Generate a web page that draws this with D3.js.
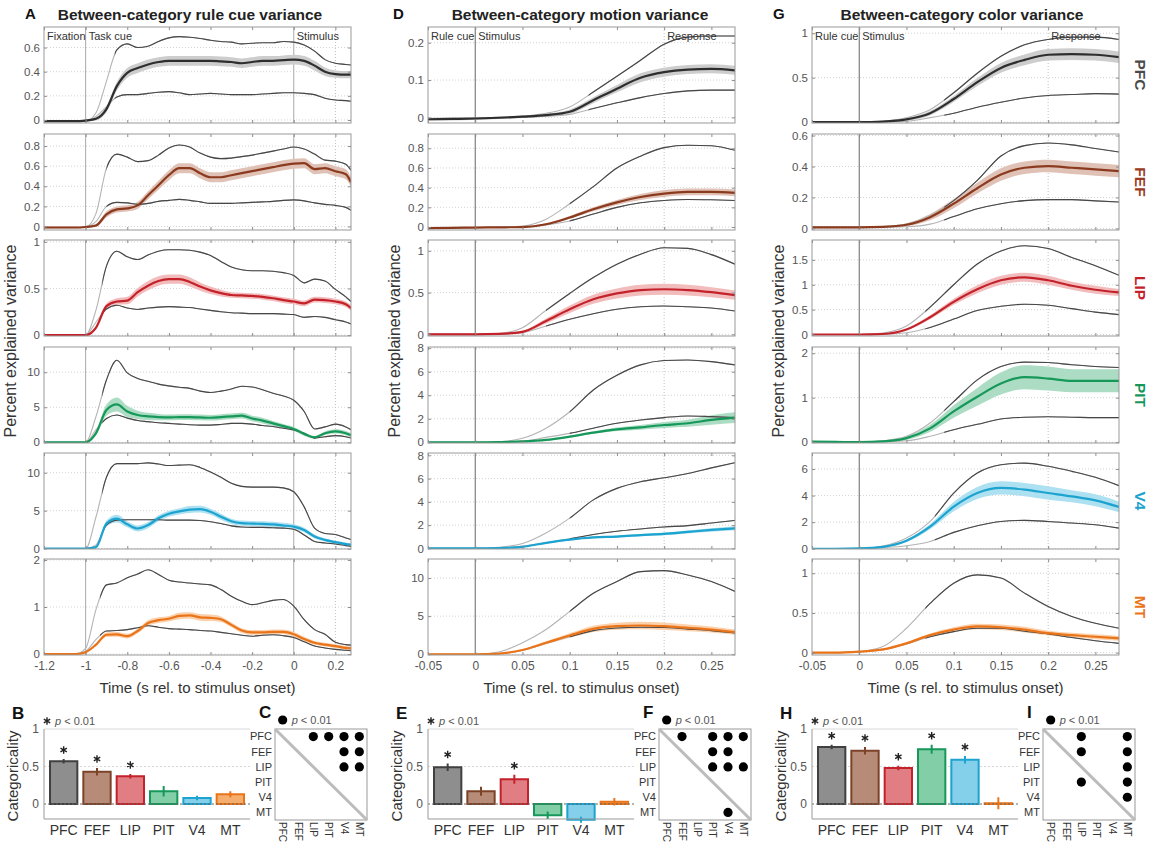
<!DOCTYPE html>
<html>
<head>
<meta charset="utf-8">
<script src="https://cdn.jsdelivr.net/npm/d3@7"></script>
<style>
body { margin: 0; background: #fff; }
svg text { font-family: "Liberation Sans", Arial, sans-serif; }
</style>
</head>
<body>
<svg width="1152" height="843"></svg>
<script>
var regions = ["PFC", "FEF", "LIP", "PIT", "V4", "MT"];

// time grids (s rel. to stimulus onset)
var tRule = [-1.2,-1.05,-1,-0.95,-0.9,-0.85,-0.8,-0.75,-0.7,-0.65,-0.6,-0.55,-0.5,-0.45,-0.4,-0.35,-0.3,-0.25,-0.2,-0.15,-0.1,-0.05,0,0.05,0.1,0.15,0.2,0.25,0.275];
var tStim = [-0.05,-0.025,0,0.025,0.05,0.075,0.1,0.125,0.15,0.175,0.2,0.225,0.25,0.275];

// A: rule cue variance (rows = PFC, FEF, LIP, PIT, V4, MT)
var ruleMean = [
  [-0.01,-0.01,-0.005,0.01,0.09,0.28,0.39,0.43,0.46,0.48,0.49,0.49,0.49,0.49,0.49,0.485,0.48,0.47,0.48,0.49,0.49,0.495,0.5,0.49,0.45,0.4,0.38,0.375,0.375],
  [-0.01,-0.01,-0.005,0.01,0.12,0.17,0.18,0.21,0.31,0.41,0.51,0.58,0.58,0.53,0.49,0.49,0.51,0.53,0.55,0.57,0.59,0.61,0.625,0.63,0.57,0.58,0.55,0.52,0.44],
  [0,0,0,0.08,0.31,0.36,0.37,0.46,0.53,0.58,0.6,0.6,0.57,0.52,0.48,0.45,0.43,0.425,0.42,0.41,0.395,0.375,0.36,0.34,0.38,0.375,0.36,0.33,0.29],
  [0,0,0,1.3,4.6,5.4,4.4,3.9,3.7,3.6,3.55,3.6,3.6,3.55,3.5,3.6,3.7,3.8,3.4,3.1,2.7,2.3,1.9,1.2,0.7,1.3,1.55,1.3,1.0],
  [0,0,0,0.2,3.3,3.95,3.2,2.65,3.1,4.0,4.6,4.9,5.15,5.2,4.85,4.2,3.6,3.35,3.3,3.25,3.2,3.05,2.9,2.45,1.6,1.15,0.85,0.6,0.5],
  [0,0,0.04,0.2,0.41,0.42,0.38,0.49,0.66,0.72,0.75,0.81,0.82,0.78,0.77,0.74,0.62,0.5,0.46,0.46,0.47,0.47,0.42,0.32,0.24,0.2,0.17,0.13,0.12]
];
var ruleHi = [
  [-0.01,-0.01,-0.01,0.06,0.32,0.58,0.63,0.6,0.61,0.65,0.68,0.69,0.685,0.675,0.66,0.65,0.645,0.63,0.635,0.64,0.64,0.65,0.645,0.62,0.57,0.5,0.47,0.46,0.455],
  [-0.01,-0.01,-0.005,0.13,0.58,0.72,0.69,0.645,0.655,0.71,0.78,0.81,0.79,0.73,0.69,0.675,0.68,0.695,0.71,0.73,0.75,0.77,0.79,0.77,0.72,0.66,0.65,0.62,0.56],
  [0,0,0,0.27,0.74,0.9,0.84,0.81,0.86,0.9,0.915,0.915,0.91,0.89,0.855,0.79,0.73,0.7,0.69,0.69,0.685,0.67,0.64,0.56,0.6,0.58,0.49,0.41,0.36],
  [0,0,0,3.7,8.9,11.7,9.9,9.1,8.7,8.3,8.05,7.85,7.7,7.3,7.1,7.3,7.6,8.0,7.9,7.5,7.0,6.6,6.0,4.4,1.9,2.2,2.6,2.2,1.8],
  [0,0,0,4.2,9.4,11.2,11.2,11.2,11.3,11.15,10.95,11.0,11.05,10.7,10.1,9.4,8.6,8.2,8.1,8.1,8.1,8.0,7.5,5.5,2.7,2.0,1.85,1.4,1.2],
  [0,0,0.12,0.95,1.47,1.51,1.62,1.7,1.79,1.69,1.57,1.53,1.51,1.49,1.47,1.37,1.23,1.12,1.05,1.09,1.14,1.16,1.02,0.73,0.52,0.42,0.25,0.2,0.19]
];
var ruleLo = [
  [-0.01,-0.01,-0.01,0.03,0.11,0.19,0.21,0.21,0.22,0.23,0.235,0.225,0.21,0.215,0.22,0.215,0.21,0.21,0.21,0.215,0.22,0.225,0.225,0.22,0.21,0.18,0.165,0.16,0.155],
  [-0.01,-0.01,-0.005,0.05,0.2,0.24,0.235,0.22,0.23,0.25,0.26,0.27,0.26,0.245,0.23,0.23,0.23,0.235,0.24,0.245,0.25,0.26,0.265,0.255,0.235,0.22,0.21,0.19,0.16],
  [0,0,0,0.14,0.28,0.32,0.29,0.275,0.29,0.3,0.305,0.3,0.295,0.28,0.265,0.25,0.24,0.235,0.23,0.23,0.23,0.225,0.22,0.19,0.2,0.19,0.165,0.14,0.12],
  [0,0,0,1.8,3.4,3.9,3.45,3.1,2.95,2.8,2.7,2.6,2.5,2.45,2.45,2.55,2.7,2.7,2.6,2.4,2.25,2.0,1.75,1.3,0.6,0.8,0.95,0.8,0.6],
  [0,0,0,0.5,3.1,3.75,3.8,3.8,3.8,3.8,3.75,3.75,3.75,3.7,3.55,3.3,3.0,2.85,2.8,2.8,2.75,2.7,2.55,1.8,0.95,0.75,0.6,0.4,0.3],
  [0,0,0.06,0.31,0.49,0.5,0.52,0.56,0.6,0.57,0.54,0.53,0.52,0.5,0.49,0.46,0.43,0.4,0.38,0.4,0.41,0.39,0.35,0.26,0.17,0.13,0.1,0.08,0.07]
];
var ruleCI = [
  [0.01,0.01,0.01,0.015,0.025,0.035,0.04,0.04,0.04,0.04,0.04,0.04,0.04,0.04,0.04,0.04,0.04,0.04,0.04,0.04,0.04,0.04,0.04,0.04,0.04,0.035,0.03,0.03,0.03],
  [0.01,0.01,0.01,0.015,0.03,0.03,0.03,0.035,0.04,0.045,0.05,0.05,0.05,0.05,0.05,0.05,0.05,0.05,0.05,0.05,0.05,0.05,0.05,0.05,0.05,0.05,0.05,0.05,0.05],
  [0.01,0.01,0.01,0.02,0.03,0.035,0.04,0.045,0.05,0.05,0.05,0.05,0.05,0.045,0.04,0.035,0.03,0.03,0.03,0.03,0.03,0.03,0.03,0.03,0.03,0.03,0.03,0.03,0.03],
  [0.02,0.02,0.02,0.3,0.8,1.0,0.8,0.6,0.5,0.45,0.4,0.4,0.4,0.4,0.4,0.4,0.4,0.4,0.4,0.4,0.35,0.3,0.3,0.25,0.2,0.25,0.3,0.3,0.3],
  [0.05,0.05,0.05,0.1,0.4,0.5,0.4,0.4,0.4,0.4,0.4,0.4,0.45,0.45,0.4,0.4,0.35,0.35,0.35,0.35,0.35,0.35,0.3,0.3,0.25,0.2,0.2,0.2,0.2],
  [0.01,0.01,0.02,0.03,0.05,0.05,0.05,0.05,0.06,0.06,0.06,0.07,0.07,0.07,0.07,0.06,0.05,0.05,0.05,0.05,0.05,0.05,0.05,0.05,0.04,0.04,0.04,0.04,0.04]
];
var ruleDark = [-0.86, -0.9, -0.92, -0.92, -0.92, -0.93];

// D: motion variance
var motionMean = [
  [-0.005,-0.004,-0.003,-0.001,0.002,0.006,0.015,0.046,0.077,0.106,0.121,0.128,0.13,0.126],
  [-0.01,-0.008,-0.005,-0.003,0,0.028,0.097,0.18,0.25,0.305,0.34,0.357,0.357,0.347],
  [0,0,0,0.005,0.03,0.16,0.3,0.42,0.49,0.53,0.54,0.53,0.505,0.47],
  [0,0,0,0.02,0.07,0.2,0.48,0.82,1.1,1.27,1.47,1.62,1.9,2.1],
  [0,0,0,0.03,0.14,0.48,0.76,0.95,1.02,1.14,1.25,1.42,1.59,1.73],
  [0,0,0,0.08,0.56,1.5,2.46,3.33,3.68,3.77,3.68,3.46,3.24,2.9]
];
var motionHi = [
  [-0.004,-0.003,-0.002,0,0.003,0.011,0.028,0.068,0.11,0.153,0.196,0.215,0.218,0.218],
  [-0.01,-0.008,-0.005,-0.002,0.01,0.08,0.236,0.41,0.6,0.72,0.807,0.83,0.826,0.78],
  [0,0,0,0.01,0.08,0.288,0.49,0.68,0.84,0.96,1.037,1.03,0.955,0.84],
  [0,0,0,0.05,0.34,1.2,2.6,4.45,5.7,6.58,6.95,7.0,6.86,6.58],
  [0,0,0,0.1,0.42,1.33,2.6,4.17,5.16,5.73,6.07,6.44,6.92,7.37],
  [0,0,0,0.3,1.5,3.24,5.63,8.0,9.54,10.84,10.97,10.4,9.54,8.24]
];
var motionLo = [
  [-0.006,-0.005,-0.004,-0.002,0,0.003,0.008,0.024,0.039,0.053,0.064,0.071,0.073,0.073],
  [-0.01,-0.008,-0.005,-0.003,-0.001,0.021,0.062,0.132,0.2,0.246,0.27,0.28,0.277,0.27],
  [0,0,0,0.003,0.02,0.1,0.18,0.247,0.3,0.33,0.34,0.33,0.315,0.28],
  [0,0,0,0.02,0.1,0.42,0.76,1.2,1.62,1.9,2.1,2.24,2.18,2.1],
  [0,0,0,0.04,0.2,0.48,0.82,1.19,1.47,1.67,1.84,1.96,2.18,2.41],
  [0,0,0,0.06,0.5,1.4,2.3,3.1,3.45,3.55,3.5,3.3,3.1,2.8]
];
var motionCI = [
  [0.004,0.004,0.003,0.003,0.003,0.004,0.006,0.008,0.01,0.012,0.012,0.012,0.012,0.012],
  [0.005,0.005,0.005,0.005,0.005,0.01,0.015,0.02,0.025,0.03,0.035,0.035,0.035,0.035],
  [0.01,0.01,0.01,0.01,0.015,0.03,0.045,0.055,0.06,0.065,0.065,0.065,0.06,0.055],
  [0.02,0.02,0.02,0.02,0.03,0.05,0.08,0.1,0.15,0.2,0.25,0.3,0.4,0.45],
  [0.02,0.02,0.02,0.02,0.03,0.05,0.07,0.08,0.1,0.1,0.12,0.13,0.15,0.17],
  [0.02,0.02,0.02,0.05,0.1,0.2,0.3,0.4,0.45,0.5,0.5,0.45,0.4,0.35]
];
var motionDark = [0.12, 0.1, 0.075, 0.1, 0.1, 0.1];

// G: color variance
var colorMean = [
  [0,0,0,0.006,0.03,0.1,0.26,0.45,0.61,0.7,0.758,0.765,0.758,0.73],
  [0.007,0.007,0.007,0.01,0.024,0.073,0.16,0.26,0.348,0.392,0.403,0.392,0.381,0.37],
  [0,0,0,0.01,0.1,0.346,0.657,0.91,1.09,1.15,1.09,0.98,0.9,0.845],
  [0.01,0.005,0,0.015,0.09,0.31,0.69,1.02,1.32,1.46,1.43,1.38,1.38,1.38],
  [0,0,0.02,0.14,0.6,1.66,3.16,4.19,4.57,4.45,4.19,3.94,3.64,3.14],
  [0,0,0.013,0.04,0.117,0.22,0.29,0.33,0.32,0.29,0.245,0.22,0.2,0.18]
];
var colorHi = [
  [0,0,0,0.01,0.05,0.14,0.33,0.55,0.74,0.87,0.93,0.956,0.956,0.93],
  [0.007,0.007,0.007,0.012,0.028,0.083,0.18,0.31,0.468,0.535,0.552,0.54,0.516,0.494],
  [0,0,0,0.03,0.17,0.55,1.0,1.417,1.68,1.785,1.73,1.55,1.383,1.19],
  [0.01,0.005,0,0.03,0.13,0.43,0.91,1.4,1.7,1.8,1.79,1.74,1.7,1.68],
  [0,0,0.02,0.2,0.8,2.05,4.19,5.7,6.32,6.44,6.2,5.82,5.37,4.74],
  [0,0,0.013,0.076,0.307,0.62,0.875,0.98,0.94,0.75,0.58,0.455,0.37,0.307]
];
var colorLo = [
  [0,0,0,0.003,0.01,0.05,0.1,0.168,0.224,0.272,0.3,0.31,0.32,0.315],
  [0.007,0.007,0.007,0.008,0.011,0.028,0.077,0.127,0.16,0.18,0.186,0.186,0.178,0.171],
  [0,0,0,0.005,0.035,0.14,0.31,0.484,0.567,0.608,0.587,0.52,0.45,0.4],
  [0.01,0.005,0,0.01,0.03,0.13,0.28,0.4,0.52,0.56,0.57,0.56,0.55,0.55],
  [0,0,0.02,0.08,0.22,0.55,1.23,1.73,2.05,2.13,2.05,1.93,1.8,1.55],
  [0,0,0.013,0.034,0.11,0.2,0.265,0.307,0.307,0.27,0.235,0.19,0.15,0.117]
];
var colorCI = [
  [0.01,0.01,0.01,0.01,0.015,0.025,0.035,0.045,0.055,0.06,0.065,0.065,0.065,0.065],
  [0.005,0.005,0.005,0.006,0.01,0.02,0.03,0.035,0.04,0.04,0.04,0.04,0.04,0.04],
  [0.01,0.01,0.01,0.01,0.02,0.04,0.06,0.08,0.09,0.09,0.09,0.08,0.08,0.07],
  [0.01,0.01,0.01,0.02,0.04,0.08,0.14,0.2,0.25,0.27,0.27,0.26,0.26,0.26],
  [0.02,0.02,0.02,0.05,0.1,0.2,0.35,0.45,0.5,0.5,0.5,0.45,0.45,0.4],
  [0.005,0.005,0.005,0.01,0.015,0.02,0.03,0.035,0.035,0.035,0.03,0.03,0.03,0.03]
];
var colorDark = [0.09, 0.09, 0.07, 0.09, 0.08, 0.07];

// axis domains and ticks
var ruleXDomain = [-1.2, 0.275];
var stimXDomain = [-0.05, 0.275];
var ruleXTicks = [-1.2, -1, -0.8, -0.6, -0.4, -0.2, 0, 0.2];
var stimXTicks = [-0.05, 0, 0.05, 0.1, 0.15, 0.2, 0.25];
var ruleYDomain = [[-0.025,0.77],[-0.035,0.92],[-0.01,1.02],[-0.1,13.6],[-0.05,12.6],[-0.02,2.02]];
var motionYDomain = [[-0.015,0.242],[-0.03,0.945],[-0.02,1.13],[-0.06,8.1],[-0.05,8.2],[-0.1,12.5]];
var colorYDomain = [[-0.01,1.07],[-0.01,0.61],[-0.03,1.9],[-0.02,2.14],[-0.02,7.2],[-0.03,1.18]];
var ruleYTicks = [[0,0.2,0.4,0.6],[0,0.2,0.4,0.6,0.8],[0,0.5,1],[0,5,10],[0,5,10],[0,1,2]];
var motionYTicks = [[0,0.1,0.2],[0,0.2,0.4,0.6,0.8],[0,0.5,1],[0,2,4,6,8],[0,2,4,6,8],[0,5,10]];
var colorYTicks = [[0,0.5,1],[0,0.2,0.4,0.6],[0,0.5,1,1.5],[0,1,2],[0,2,4,6],[0,0.5,1]];

// task events
var ruleEvents = [["Fixation", -1.2], ["Task cue", -1], ["Stimulus", 0]];
var motionEvents = [["Rule cue", -0.05], ["Stimulus", 0], ["Response", 0.2]];
var colorEvents = [["Rule cue", -0.05], ["Stimulus", 0], ["Response", 0.2]];
var ruleSolid = [-1, 0];
var stimSolid = [0];
var dottedAt = 0.2;

// categoricality bars
var ruleBars = [0.57, 0.43, 0.37, 0.17, 0.08, 0.13];
var ruleErr = [0.03, 0.05, 0.03, 0.07, 0.03, 0.04];
var ruleSig = [1, 1, 1, 0, 0, 0];
var motionBars = [0.49, 0.17, 0.33, -0.15, -0.21, 0.03];
var motionErr = [0.05, 0.06, 0.06, 0.05, 0.04, 0.05];
var motionSig = [1, 0, 1, 0, 0, 0];
var colorBars = [0.76, 0.71, 0.48, 0.73, 0.59, 0.01];
var colorErr = [0.03, 0.05, 0.03, 0.06, 0.05, 0.08];
var colorSig = [1, 1, 1, 1, 1, 0];

// pairwise comparisons (row, column), p < 0.01
var ruleMatrix = [[0,2],[0,3],[0,4],[0,5],[1,4],[1,5],[2,4],[2,5]];
var motionMatrix = [[0,1],[0,3],[0,4],[0,5],[1,3],[1,4],[2,3],[2,4],[2,5],[5,4]];
var colorMatrix = [[0,2],[0,5],[1,2],[1,5],[2,5],[3,2],[3,5],[4,5]];

var lineColors = ["#2e2e2e", "#8b3a1e", "#c4222b", "#16985a", "#1ca3cf", "#ea7419"];
var bandColors = ["#cdcdcd", "#dfc1b6", "#f2bcbc", "#acdcc3", "#ade0f0", "#fbd0aa"];
var barFill = ["#8e8e8e", "#b68b78", "#e07e84", "#82cfa7", "#84d0ea", "#f5ae6e"];
var barStroke = ["#404040", "#7d4328", "#c4222b", "#16985a", "#1ca3cf", "#ea7419"];
var labelColors = ["#4a4a4a", "#9c3a20", "#c4222b", "#16985a", "#1ca3cf", "#ea7419"];

var svg = d3.select("svg");
var defs = svg.append("defs");

var W = 307, H = 96;
var rowTop = [27, 134, 240, 347, 453, 559];
var colLeft = [44, 428, 812];
var letterX = [25, 393, 773];
var titleX = [190, 580, 962];

var columns = [
  {letter: "A", title: "Between-category rule cue variance", t: tRule, mean: ruleMean, hi: ruleHi, lo: ruleLo, ci: ruleCI, dark: ruleDark,
   xDom: ruleXDomain, xTicks: ruleXTicks, yDom: ruleYDomain, yTicks: ruleYTicks, events: ruleEvents, solid: ruleSolid},
  {letter: "D", title: "Between-category motion variance", t: tStim, mean: motionMean, hi: motionHi, lo: motionLo, ci: motionCI, dark: motionDark,
   xDom: stimXDomain, xTicks: stimXTicks, yDom: motionYDomain, yTicks: motionYTicks, events: motionEvents, solid: stimSolid},
  {letter: "G", title: "Between-category color variance", t: tStim, mean: colorMean, hi: colorHi, lo: colorLo, ci: colorCI, dark: colorDark,
   xDom: stimXDomain, xTicks: stimXTicks, yDom: colorYDomain, yTicks: colorYTicks, events: colorEvents, solid: stimSolid}
];

function styleAxis(g, size) {
	g.select(".domain").remove();
	g.selectAll("line").attr("stroke", "#8c8c8c");
	g.selectAll("text").attr("fill", "#555").attr("font-size", size)
		.attr("font-family", "'Liberation Sans', Arial, sans-serif");
}

columns.forEach(function(col, c) {
	var left = colLeft[c];
	var x = d3.scaleLinear().domain(col.xDom).range([left, left + W]);

	// panel letter + title
	svg.append("text").attr("x", letterX[c]).attr("y", 19)
		.attr("font-size", 15).attr("font-weight", "bold").attr("fill", "#111").text(col.letter);
	svg.append("text").attr("x", titleX[c]).attr("y", 20).attr("text-anchor", "middle")
		.attr("font-size", 15.5).attr("font-weight", "bold").attr("fill", "#222").text(col.title);

	regions.forEach(function(reg, r) {
		var top = rowTop[r];
		var y = d3.scaleLinear().domain(col.yDom[r]).range([top + H, top]);
		var g = svg.append("g");

		var clipId = "clip" + c + "_" + r;
		defs.append("clipPath").attr("id", clipId).append("rect")
			.attr("x", left).attr("y", top).attr("width", W).attr("height", H);
		var darkId = "dark" + c + "_" + r;
		defs.append("clipPath").attr("id", darkId).append("rect")
			.attr("x", x(col.dark[r])).attr("y", top).attr("width", left + W - x(col.dark[r])).attr("height", H);

		var inner = g.append("g").attr("clip-path", "url(#" + clipId + ")");

		// dotted grid at y ticks
		inner.selectAll(".grid").data(col.yTicks[r]).enter().append("line")
			.attr("x1", left).attr("x2", left + W)
			.attr("y1", function(d) { return y(d); }).attr("y2", function(d) { return y(d); })
			.attr("stroke", "#d4d4d4").attr("stroke-width", 1).attr("stroke-dasharray", "1,2");

		// dotted response / 0.2 s line
		inner.append("line").attr("x1", x(dottedAt)).attr("x2", x(dottedAt))
			.attr("y1", top).attr("y2", top + H)
			.attr("stroke", "#c0c0c0").attr("stroke-dasharray", "1,2");

		// solid event lines
		inner.selectAll(".ev").data(col.solid).enter().append("line")
			.attr("x1", function(d) { return x(d); }).attr("x2", function(d) { return x(d); })
			.attr("y1", top).attr("y2", top + H)
			.attr("stroke", c === 0 ? "#a8a8a8" : "#666").attr("stroke-width", 1);

		var pts = col.t.map(function(t, i) {
			return {t: t, m: col.mean[r][i], hi: col.hi[r][i], lo: col.lo[r][i], ci: col.ci[r][i]};
		});

		var band = d3.area().curve(d3.curveMonotoneX)
			.x(function(d) { return x(d.t); })
			.y0(function(d) { return y(d.m - d.ci); })
			.y1(function(d) { return y(d.m + d.ci); });
		inner.append("path").datum(pts).attr("d", band).attr("fill", bandColors[r]);

		var hiLine = d3.line().curve(d3.curveMonotoneX)
			.x(function(d) { return x(d.t); }).y(function(d) { return y(d.hi); });
		var loLine = d3.line().curve(d3.curveMonotoneX)
			.x(function(d) { return x(d.t); }).y(function(d) { return y(d.lo); });

		// reference lines: light grey before significance, dark after
		[hiLine, loLine].forEach(function(gen) {
			inner.append("path").datum(pts).attr("d", gen)
				.attr("fill", "none").attr("stroke", "#b4b4b4").attr("stroke-width", 1.1);
			inner.append("g").attr("clip-path", "url(#" + darkId + ")")
				.append("path").datum(pts).attr("d", gen)
				.attr("fill", "none").attr("stroke", "#474747").attr("stroke-width", 1.1);
		});

		var meanLine = d3.line().curve(d3.curveMonotoneX)
			.x(function(d) { return x(d.t); }).y(function(d) { return y(d.m); });
		inner.append("path").datum(pts).attr("d", meanLine)
			.attr("fill", "none").attr("stroke", lineColors[r]).attr("stroke-width", 2.2);

		// event labels in the top row
		if (r === 0) {
			col.events.forEach(function(ev) {
				g.append("text").attr("x", x(ev[1]) + 3).attr("y", top + 13)
					.attr("font-size", 11).attr("fill", "#333").text(ev[0]);
			});
		}

		// axes: ticks pointing inward on all four sides
		var ax = g.append("g").attr("transform", "translate(" + left + ",0)")
			.call(d3.axisLeft(y).tickValues(col.yTicks[r]).tickSize(-3).tickPadding(4)
				.tickFormat(function(d) { return String(d); }));
		styleAxis(ax, 11.5);
		var axR = g.append("g").attr("transform", "translate(" + (left + W) + ",0)")
			.call(d3.axisRight(y).tickValues(col.yTicks[r]).tickSize(-3).tickFormat(""));
		styleAxis(axR, 10);
		var axT = g.append("g").attr("transform", "translate(0," + top + ")")
			.call(d3.axisTop(x).tickValues(col.xTicks).tickSize(-3).tickFormat(""));
		styleAxis(axT, 10);
		var axB = g.append("g").attr("transform", "translate(0," + (top + H) + ")")
			.call(d3.axisBottom(x).tickValues(col.xTicks).tickSize(-3).tickPadding(6)
				.tickFormat(r === regions.length - 1 ? function(d) { return String(d); } : ""));
		styleAxis(axB, 12);

		g.append("rect").attr("x", left).attr("y", top).attr("width", W).attr("height", H)
			.attr("fill", "none").attr("stroke", "#999").attr("stroke-width", 1);

		// region name at the far right
		if (c === 2) {
			svg.append("text")
				.attr("transform", "translate(1140," + (top + H / 2) + ") rotate(90)")
				.attr("text-anchor", "middle").attr("dy", "0.35em")
				.attr("font-size", 15.5).attr("font-weight", "bold").attr("fill", labelColors[r])
				.text(reg);
		}
	});

	// axis labels
	svg.append("text").attr("x", left + W / 2).attr("y", 693).attr("text-anchor", "middle")
		.attr("font-size", 15).attr("fill", "#333").text("Time (s rel. to stimulus onset)");
	svg.append("text")
		.attr("transform", "translate(" + (left - 28) + "," + (rowTop[0] + (rowTop[5] + H - rowTop[0]) / 2) + ") rotate(-90)")
		.attr("text-anchor", "middle").attr("font-size", 16).attr("fill", "#333")
		.text("Percent explained variance");
});

// ---- categoricality bars and pairwise matrices ----
var barPanels = [
  {letter: "B", mLetter: "C", vals: ruleBars, err: ruleErr, sig: ruleSig, pairs: ruleMatrix, left: 44, mLeft: 275},
  {letter: "E", mLetter: "F", vals: motionBars, err: motionErr, sig: motionSig, pairs: motionMatrix, left: 428, mLeft: 659},
  {letter: "H", mLetter: "I", vals: colorBars, err: colorErr, sig: colorSig, pairs: colorMatrix, left: 812, mLeft: 1043}
];
var barTop = 729, barBottom = 819, barW = 206, mW = 92;

barPanels.forEach(function(p) {
	var g = svg.append("g");
	var x = d3.scaleBand().domain(regions).range([p.left, p.left + barW]).padding(0.18);
	var y = d3.scaleLinear().domain([-0.2, 1]).range([barBottom, barTop]);

	g.append("text").attr("x", p.left - 32).attr("y", 719).attr("font-size", 17)
		.attr("font-weight", "bold").attr("fill", "#111").text(p.letter);

	// grid
	g.append("line").attr("x1", p.left).attr("x2", p.left + barW).attr("y1", y(1)).attr("y2", y(1))
		.attr("stroke", "#d8d8d8");
	g.append("line").attr("x1", p.left).attr("x2", p.left + barW).attr("y1", y(0.5)).attr("y2", y(0.5))
		.attr("stroke", "#d8d8d8").attr("stroke-dasharray", "2,2");

	g.selectAll(".bar").data(p.vals).enter().append("rect")
		.attr("x", function(d, i) { return x(regions[i]); })
		.attr("y", function(d) { return y(Math.max(0, d)); })
		.attr("width", x.bandwidth())
		.attr("height", function(d) { return Math.abs(y(d) - y(0)); })
		.attr("fill", function(d, i) { return barFill[i]; })
		.attr("stroke", function(d, i) { return barStroke[i]; })
		.attr("stroke-width", 2);

	g.append("line").attr("x1", p.left).attr("x2", p.left + barW).attr("y1", y(0)).attr("y2", y(0))
		.attr("stroke", "#666").attr("stroke-dasharray", "2,2");

	g.selectAll(".err").data(p.vals).enter().append("line")
		.attr("x1", function(d, i) { return x(regions[i]) + x.bandwidth() / 2; })
		.attr("x2", function(d, i) { return x(regions[i]) + x.bandwidth() / 2; })
		.attr("y1", function(d, i) { return y(d - p.err[i]); })
		.attr("y2", function(d, i) { return y(d + p.err[i]); })
		.attr("stroke", function(d, i) { return barStroke[i]; })
		.attr("stroke-width", 2);

	// significance asterisks
	var star = d3.symbol().type(d3.symbolAsterisk).size(38);
	var sigIdx = d3.range(regions.length).filter(function(i) { return p.sig[i]; });
	g.selectAll(".star").data(sigIdx).enter()
		.append("path").attr("d", star)
		.attr("transform", function(i) {
			return "translate(" + (x(regions[i]) + x.bandwidth() / 2) + "," + y(p.vals[i] + p.err[i] + 0.12) + ")";
		})
		.attr("fill", "none").attr("stroke", "#222").attr("stroke-width", 1.4);

	// legend
	g.append("path").attr("d", star).attr("transform", "translate(" + (p.left + 3) + ",721)")
		.attr("fill", "none").attr("stroke", "#222").attr("stroke-width", 1.4);
	var lt = g.append("text").attr("x", p.left + 11).attr("y", 725).attr("font-size", 11).attr("fill", "#555");
	lt.append("tspan").attr("font-style", "italic").text("p");
	lt.append("tspan").text(" < 0.01");

	// axes
	var ay = g.append("g").attr("transform", "translate(" + p.left + ",0)")
		.call(d3.axisLeft(y).tickValues([0, 0.5, 1]).tickSize(0).tickPadding(5)
			.tickFormat(function(d) { return String(d); }));
	styleAxis(ay, 12);
	g.append("line").attr("x1", p.left).attr("x2", p.left).attr("y1", barTop).attr("y2", barBottom).attr("stroke", "#999");
	g.append("line").attr("x1", p.left).attr("x2", p.left + barW).attr("y1", barBottom).attr("y2", barBottom).attr("stroke", "#999");
	var ax = g.append("g").attr("transform", "translate(0," + barBottom + ")")
		.call(d3.axisBottom(x).tickSize(0).tickPadding(6));
	ax.select(".domain").remove();
	ax.selectAll("text").attr("font-size", 14).attr("fill", "#333")
		.attr("font-family", "'Liberation Sans', Arial, sans-serif");

	g.append("text")
		.attr("transform", "translate(" + (p.left - 26) + "," + ((barTop + barBottom) / 2 + 2) + ") rotate(-90)")
		.attr("text-anchor", "middle").attr("font-size", 15).attr("fill", "#333").text("Categoricality");

	// pairwise matrix
	var mx = d3.scaleBand().domain(regions).range([p.mLeft, p.mLeft + mW]);
	var my = d3.scaleBand().domain(regions).range([barTop, barBottom + 1]);
	g.append("text").attr("x", p.mLeft - 16).attr("y", 718).attr("font-size", 17)
		.attr("font-weight", "bold").attr("fill", "#111").text(p.mLetter);
	g.append("rect").attr("x", p.mLeft).attr("y", barTop).attr("width", mW).attr("height", barBottom + 1 - barTop)
		.attr("fill", "none").attr("stroke", "#999");
	g.append("line").attr("x1", p.mLeft).attr("y1", barTop).attr("x2", p.mLeft + mW).attr("y2", barBottom + 1)
		.attr("stroke", "#bcbcbc").attr("stroke-width", 3);
	g.selectAll(".dot").data(p.pairs).enter().append("circle")
		.attr("cx", function(d) { return mx(regions[d[1]]) + mx.bandwidth() / 2; })
		.attr("cy", function(d) { return my(regions[d[0]]) + my.bandwidth() / 2; })
		.attr("r", 4.6).attr("fill", "#000");
	g.selectAll(".rowlab").data(regions).enter().append("text")
		.attr("x", p.mLeft - 3).attr("y", function(d) { return my(d) + my.bandwidth() / 2; })
		.attr("dy", "0.35em").attr("text-anchor", "end").attr("font-size", 11).attr("fill", "#333")
		.text(function(d) { return d; });
	g.selectAll(".collab").data(regions).enter().append("text")
		.attr("transform", function(d) { return "translate(" + (mx(d) + mx.bandwidth() / 2) + "," + (barBottom + 3) + ") rotate(90)"; })
		.attr("dy", "0.35em").attr("font-size", 10).attr("fill", "#333")
		.text(function(d) { return d; });
	// legend
	g.append("circle").attr("cx", mx(regions[0]) + mx.bandwidth() / 2).attr("cy", 720).attr("r", 4.6).attr("fill", "#000");
	var mt = g.append("text").attr("x", mx(regions[0]) + mx.bandwidth() / 2 + 9).attr("y", 724)
		.attr("font-size", 11).attr("fill", "#555");
	mt.append("tspan").attr("font-style", "italic").text("p");
	mt.append("tspan").text(" < 0.01");
});
</script>
</body>
</html>
